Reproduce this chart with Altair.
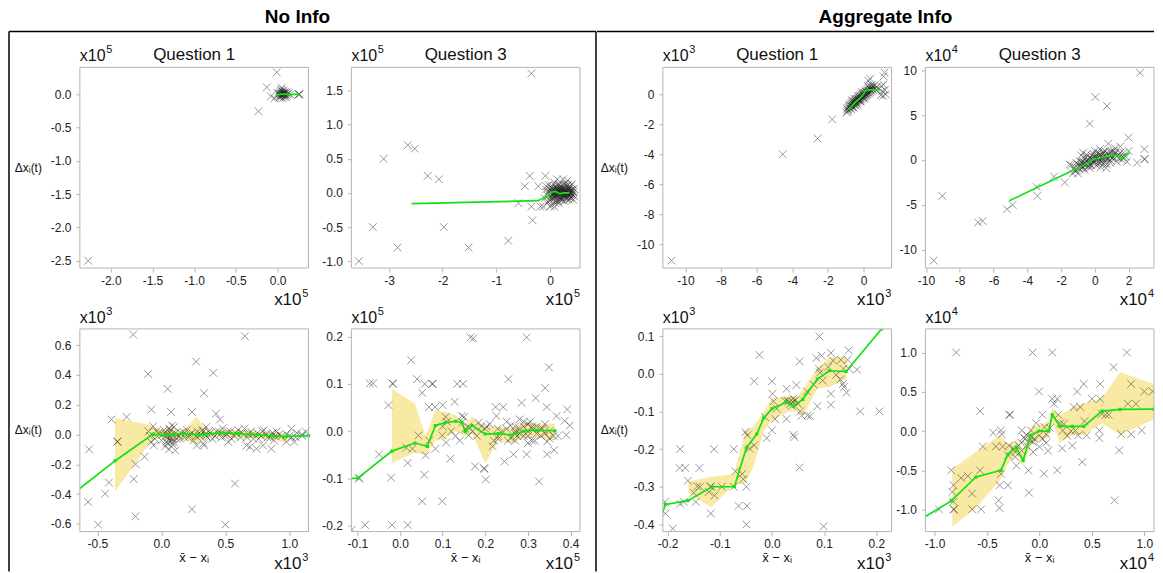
import altair as alt
import pandas as pd

FONT = "Liberation Sans"
XSHAPE = "M-1,-1L1,1M-1,1L1,-1"
GREEN = "#14e014"
BANDC = "#f8eaa5"
FRAME = "#b4b4b4"
W = 229
HT = 201
HB = 203

# ---------------- No Info, Question 1 (x10^5) ----------------
A_PTS = [(-2.27, -2.50), (-0.23, -0.255), (-0.13, 0.105), (-0.01, 0.33), (-0.04, -0.06),
         (-0.08, -0.03), (0.05, 0.10), (0.26, 0.0), (0.26, 0.004), (0.25, -0.004),
         (0.00, 0.02), (0.02, -0.03), (0.03, 0.04), (0.04, 0.00), (0.05, -0.02), (0.06, 0.03),
         (0.07, 0.06), (0.08, -0.04), (0.09, 0.01), (0.10, -0.01), (0.11, 0.03), (0.12, 0.00),
         (0.03, -0.05), (0.05, 0.05), (0.07, -0.01), (0.01, 0.00), (0.04, 0.07), (0.06, -0.06),
         (0.09, 0.04), (0.02, 0.01), (0.08, 0.02), (0.10, -0.04), (0.05, 0.01), (0.07, 0.02),
         (0.13, 0.02), (0.15, 0.0), (0.04, -0.02), (0.06, 0.0), (0.03, 0.01), (0.08, 0.0)]
A_LINE = [(-0.02, -0.01), (0.03, 0.0), (0.07, 0.005), (0.12, 0.0), (0.26, 0.0)]

# ---------------- No Info, Question 3 (x10^5) ----------------
B_PTS = [(-3.56, -1.0), (-3.30, -0.5), (-3.10, 0.5), (-2.84, -0.8), (-2.65, 0.70), (-2.52, 0.65),
         (-2.28, 0.25), (-2.07, 0.20), (-1.98, -0.5), (-1.52, -0.8), (-0.78, -0.70), (-0.59, -0.15),
         (-0.35, 1.75), (-0.38, 0.25), (-0.47, 0.10), (-0.33, -0.40), (-0.35, -0.2), (-0.22, 0.10),
         (-0.09, 0.25), (-0.07, 0.1), (-0.13, -0.2), (0.0, -0.2), (-0.05, -0.15), (-0.18, -0.2),
         (-0.1, -0.08), (0.00, 0.05), (0.02, -0.05), (0.04, 0.10), (0.05, 0.0), (0.06, -0.1),
         (0.08, 0.15), (0.09, 0.03), (0.10, -0.04), (0.11, 0.08), (0.12, -0.12), (0.13, 0.0),
         (0.14, 0.05), (0.15, -0.06), (0.16, 0.12), (0.17, 0.02), (0.18, -0.02), (0.19, 0.07),
         (0.20, -0.08), (0.21, 0.0), (0.22, 0.04), (0.23, -0.03), (0.24, 0.2), (0.25, 0.01),
         (0.26, -0.05), (0.27, 0.06), (0.28, -0.01), (0.29, 0.03), (0.30, -0.07), (0.31, 0.02),
         (0.32, 0.18), (0.33, -0.02), (0.34, 0.05), (0.35, 0.0), (0.36, -0.04), (0.37, 0.03),
         (0.38, 0.1), (0.40, -0.01), (0.42, 0.02), (0.44, 0.06), (0.45, -0.05), (-0.05, 0.0),
         (-0.08, 0.05), (0.03, 0.02), (0.07, -0.02), (0.12, 0.04), (0.18, 0.09), (0.22, -0.1),
         (0.27, -0.12), (0.31, 0.1), (0.35, -0.1), (0.39, -0.06), (0.10, 0.0), (0.15, 0.02),
         (0.20, 0.03), (0.25, 0.0), (0.30, 0.01), (0.35, 0.02), (0.05, 0.06), (0.28, 0.14),
         (0.16, -0.15), (0.08, -0.2), (0.02, -0.18), (-0.02, -0.1), (-0.03, 0.12), (0.13, 0.2),
         (0.41, 0.13), (0.43, -0.1),
         (0.01, 0.0), (0.03, -0.03), (0.05, 0.03), (0.07, 0.0), (0.09, -0.06), (0.11, 0.02),
         (0.13, -0.03), (0.15, 0.04), (0.17, -0.04), (0.19, 0.0), (0.21, 0.05), (0.23, 0.01),
         (0.25, -0.03), (0.27, 0.02), (0.29, -0.04), (0.31, 0.0), (0.33, 0.04), (0.35, -0.02),
         (0.37, 0.0), (0.39, 0.03), (0.02, 0.08), (0.06, 0.05), (0.10, 0.10), (0.14, -0.09),
         (0.18, 0.12), (0.22, 0.07), (0.26, 0.09), (0.30, -0.09), (0.34, 0.08), (0.38, -0.08),
         (0.04, -0.08), (0.08, -0.05), (0.12, 0.06), (0.16, 0.06), (0.20, -0.05), (0.24, -0.07),
         (0.28, 0.05), (0.32, -0.05), (0.36, 0.06), (0.40, 0.05), (-0.02, 0.02), (-0.04, -0.04),
         (0.00, -0.1), (0.15, -0.12), (0.25, 0.13), (0.10, -0.15), (0.33, 0.12), (0.42, -0.03),
         (0.44, 0.01), (0.19, -0.1)]
B_LINE = [(-2.58, -0.156), (-0.222, -0.113), (-0.068, -0.05), (0.025, 0.01), (0.10, 0.023),
          (0.18, -0.01), (0.27, 0.0), (0.36, 0.0)]

# ---------------- No Info, bottom left (x10^3) ----------------
C_PTS = [(-0.565, -0.10), (-0.573, -0.453), (-0.495, -0.605), (-0.44, -0.397), (-0.41, -0.323),
         (-0.389, 0.10), (-0.344, -0.047), (-0.344, -0.05), (-0.272, 0.117), (-0.22, 0.67),
         (-0.215, -0.30), (-0.202, -0.20), (-0.202, -0.55), (-0.132, -0.15), (-0.103, 0.405),
         (-0.078, 0.167), (-0.064, 0.054), (-0.06, -0.074), (0.049, 0.306), (0.064, 0.016),
         (0.075, 0.15), (0.083, 0.06), (0.096, -0.05), (0.109, -0.107), (0.148, -0.029),
         (0.239, 0.15), (0.239, -0.502), (0.272, 0.489), (0.277, -0.074), (0.334, 0.277),
         (0.334, -0.074), (0.406, 0.413), (0.427, 0.139), (0.458, 0.10), (0.50, -0.605),
         (0.523, -0.05), (0.575, -0.33), (0.653, 0.659), (0.666, -0.074), (0.692, -0.084),
         (0.744, -0.096), (0.795, -0.074), (0.86, -0.096), (0.977, -0.05), (1.016, 0.038),
         (1.04, -0.05), (1.10, 0.0),
         (-0.10, 0.02), (-0.05, -0.03), (-0.02, 0.01), (0.00, -0.04), (0.02, 0.03), (0.04, -0.01),
         (0.05, -0.06), (0.06, 0.04), (0.07, -0.02), (0.08, 0.00), (0.10, 0.05), (0.12, -0.03),
         (0.15, 0.01), (0.18, -0.02), (0.20, 0.03), (0.22, 0.00), (0.25, -0.04), (0.28, 0.02),
         (0.30, -0.01), (0.32, 0.03), (0.34, 0.0), (0.36, -0.02), (0.38, 0.01), (0.40, -0.03),
         (0.43, 0.02), (0.46, 0.0), (0.48, 0.04), (0.50, -0.01), (0.52, 0.02), (0.55, -0.03),
         (0.58, 0.01), (0.60, 0.03), (0.62, -0.02), (0.65, 0.04), (0.68, 0.0), (0.70, 0.02),
         (0.72, -0.03), (0.75, 0.01), (0.78, -0.01), (0.80, 0.03), (0.83, -0.02), (0.86, 0.0),
         (0.88, -0.04), (0.90, 0.02), (0.94, -0.01), (0.98, 0.0), (1.02, -0.02), (1.06, 0.01),
         (1.10, -0.01), (1.13, 0.02), (0.03, -0.08), (0.06, -0.10), (0.09, -0.07), (-0.08, -0.05),
         (0.33, -0.06), (0.35, 0.05),
         (-0.09, -0.01), (-0.04, 0.02), (0.01, 0.0), (0.03, 0.01), (0.05, -0.02), (0.07, 0.03),
         (0.09, -0.03), (0.11, 0.01), (0.14, -0.01), (0.17, 0.02), (0.21, -0.02), (0.24, 0.01),
         (0.27, -0.01), (0.31, 0.0), (0.33, 0.02), (0.35, -0.01), (0.37, 0.02), (0.42, -0.01),
         (0.45, 0.02), (0.47, -0.02), (0.51, 0.0), (0.54, 0.02), (0.57, -0.01), (0.63, 0.01),
         (0.67, -0.02), (0.71, 0.0), (0.76, -0.03), (0.79, 0.02), (0.82, 0.0), (0.85, -0.02),
         (0.87, 0.01), (0.89, -0.01), (0.92, 0.0), (1.0, -0.01), (1.05, -0.02), (0.04, -0.05),
         (0.06, -0.04), (0.08, -0.05)]
C_LINE = [(-0.70, -0.405), (-0.363, -0.178), (-0.068, 0.0), (0.02, -0.005), (0.10, 0.0),
          (0.18, 0.005), (0.277, -0.005), (0.35, 0.0), (0.458, 0.012), (0.60, 0.005),
          (0.744, -0.003), (0.86, -0.01), (0.977, -0.013), (1.15, -0.008)]
C_BAND = [(-0.363, -0.384, 0.11), (-0.068, -0.03, 0.06), (0.018, -0.025, 0.02), (0.07, -0.04, 0.056),
          (0.10, -0.04, 0.02), (0.18, -0.03, 0.03), (0.277, -0.065, 0.12), (0.35, -0.02, 0.02),
          (0.458, -0.01, 0.03), (0.60, -0.025, 0.03), (0.744, -0.025, 0.015), (0.86, -0.03, 0.01),
          (0.977, -0.06, 0.005)]

# ---------------- No Info, bottom right (x10^5) ----------------
D_PTS = [(-0.113, -0.208), (-0.082, -0.198), (-0.096, -0.098), (-0.096, -0.1), (-0.071, 0.101),
         (-0.063, 0.101), (-0.049, -0.049), (-0.027, 0.055), (-0.021, -0.098), (-0.019, -0.198),
         (-0.018, 0.101), (-0.016, 0.1), (0.018, -0.198), (0.018, -0.067), (0.026, 0.150),
         (0.015, -0.035), (0.029, -0.037), (0.040, 0.110), (0.043, -0.009), (0.052, 0.081),
         (0.057, -0.092), (0.052, -0.148), (0.058, 0.10), (0.06, -0.051), (0.068, 0.051),
         (0.068, -0.02), (0.077, 0.10), (0.075, 0.1), (0.082, 0.051), (0.083, -0.037),
         (0.099, -0.148), (0.099, -0.009), (0.100, 0.055), (0.107, 0.03), (0.108, -0.024),
         (0.118, -0.058), (0.128, 0.062), (0.134, 0.10), (0.148, 0.10), (0.145, 0.032),
         (0.146, 0.019), (0.153, 0.005), (0.161, -0.009), (0.165, 0.198), (0.172, 0.196),
         (0.176, -0.074), (0.184, 0.018), (0.19, 0.01), (0.198, -0.08), (0.197, -0.078),
         (0.201, -0.102), (0.203, 0.01), (0.217, -0.032), (0.224, 0.051), (0.226, 0.032),
         (0.229, 0.005), (0.23, -0.016), (0.242, 0.051), (0.245, -0.064), (0.254, 0.110),
         (0.253, -0.02), (0.266, -0.049), (0.27, -0.005), (0.275, -0.01), (0.285, 0.06),
         (0.297, 0.198), (0.297, -0.049), (0.30, -0.01), (0.305, 0.02), (0.318, 0.07),
         (0.326, -0.106), (0.316, -0.02), (0.334, 0.005), (0.34, 0.091), (0.344, 0.051),
         (0.345, -0.049), (0.349, 0.135), (0.345, -0.022), (0.361, -0.04), (0.367, 0.032),
         (0.37, -0.01), (0.386, 0.022), (0.392, 0.046), (0.39, -0.008), (0.398, 0.012),
         (0.12, 0.0), (0.14, -0.02), (0.16, 0.01), (0.18, -0.01), (0.21, 0.015), (0.23, -0.01),
         (0.25, 0.005), (0.26, -0.015), (0.27, 0.01), (0.28, -0.005), (0.29, 0.02), (0.30, 0.0),
         (0.31, -0.02), (0.32, 0.01), (0.33, -0.01), (0.34, 0.015), (0.35, 0.0), (0.36, -0.01),
         (0.28, 0.005), (0.30, 0.015), (0.27, -0.02), (0.31, 0.005), (0.24, 0.0), (0.15, 0.03),
         (0.11, 0.02),
         (0.10, 0.01), (0.13, -0.01), (0.17, 0.0), (0.20, 0.005), (0.22, -0.02), (0.25, 0.02),
         (0.27, 0.0), (0.29, -0.01), (0.31, 0.01), (0.33, 0.005), (0.35, -0.015), (0.29, 0.01),
         (0.32, -0.005), (0.26, 0.012), (0.34, -0.005), (0.30, -0.025), (0.28, 0.025)]
D_LINE = [(-0.13, -0.10), (-0.099, -0.099), (-0.019, -0.042), (0.035, -0.025), (0.064, -0.032),
          (0.083, 0.012), (0.107, 0.018), (0.13, 0.021), (0.145, 0.019), (0.153, -0.001),
          (0.169, 0.012), (0.20, -0.006), (0.23, -0.005), (0.26, -0.008), (0.29, 0.0),
          (0.32, 0.002), (0.363, 0.001)]
D_BAND = [(-0.019, -0.067, 0.089), (0.035, -0.045, 0.058), (0.060, -0.05, -0.01), (0.083, -0.02, 0.045),
          (0.107, -0.015, 0.04), (0.13, 0.0, 0.035), (0.153, -0.01, 0.015), (0.169, -0.005, 0.03),
          (0.20, -0.068, 0.01), (0.23, -0.02, 0.01), (0.26, -0.025, 0.005), (0.29, -0.015, 0.018),
          (0.32, -0.012, 0.015), (0.363, -0.02, 0.016)]

# ---------------- Aggregate Info, Question 1 (x10^3) ----------------
E_PTS = [(-10.78, -11.1), (-4.54, -4.0), (-2.58, -2.95), (-1.76, -1.67), (1.18, 1.45), (1.13, 1.2),
         (1.0, 0.55), (1.12, 0.65), (0.98, -0.05), (1.25, 0.0), (1.05, 0.2), (0.28, 0.9), (0.37, 1.05),
         (1.2, 0.3), (1.1, -0.1),
         (-0.95, -1.2), (-0.9, -0.9), (-0.85, -1.05), (-0.8, -0.7), (-0.75, -0.95), (-0.7, -0.6),
         (-0.65, -0.85), (-0.6, -0.45), (-0.55, -0.7), (-0.5, -0.5), (-0.45, -0.75), (-0.4, -0.3),
         (-0.35, -0.55), (-0.3, -0.2), (-0.25, -0.45), (-0.2, -0.1), (-0.15, -0.35), (-0.1, 0.0),
         (-0.05, -0.25), (0.0, 0.1), (0.05, -0.15), (0.1, 0.2), (0.15, -0.05), (0.2, 0.3),
         (0.25, 0.05), (0.3, 0.4), (0.35, 0.15), (0.4, 0.5), (0.45, 0.2), (0.5, 0.35), (-0.6, -0.8),
         (-0.4, -0.6), (-0.2, -0.4), (0.0, -0.2), (-0.3, -0.1), (-0.1, 0.15), (0.1, -0.1),
         (-0.5, -0.3), (-0.7, -1.0), (0.2, 0.0), (0.3, 0.1), (-0.15, -0.2), (-0.25, -0.3),
         (-0.45, -0.5), (-0.35, -0.35), (0.05, 0.05), (0.15, 0.15), (-0.05, -0.05), (0.6, 0.6),
         (0.55, 0.3),
         (-0.92, -1.0), (-0.88, -1.15), (-0.82, -0.85), (-0.78, -0.8), (-0.72, -0.75), (-0.68, -0.7),
         (-0.62, -0.6), (-0.58, -0.55), (-0.52, -0.62), (-0.48, -0.4), (-0.42, -0.45), (-0.38, -0.4),
         (-0.32, -0.3), (-0.28, -0.35), (-0.22, -0.2), (-0.18, -0.25), (-0.12, -0.1), (-0.08, -0.15),
         (-0.02, 0.0), (0.02, -0.05), (0.08, 0.1), (0.12, 0.05), (0.18, 0.2), (0.22, 0.15),
         (0.28, 0.25), (0.32, 0.3), (0.38, 0.35), (0.42, 0.3), (0.48, 0.45), (0.52, 0.5),
         (-0.55, -0.9), (-0.35, -0.7), (-0.15, -0.5), (0.05, -0.3), (0.25, 0.55), (0.45, 0.65),
         (-0.65, -0.4), (0.65, 0.4), (0.7, 0.3), (0.75, 0.5)]
E_LINE = [(-0.84, -1.0), (-0.6, -0.7), (-0.4, -0.45), (-0.2, -0.25), (0.0, 0.0), (0.1, 0.22),
          (0.28, 0.3), (0.6, 0.3), (1.03, 0.29)]

# ---------------- Aggregate Info, Question 3 (x10^4) ----------------
F_PTS = [(-9.54, -11.2), (-9.03, -4.0), (-6.91, -6.96), (-6.64, -6.8), (-5.2, -5.48), (-4.87, -5.0),
         (-3.44, -3.0), (-3.4, -4.0), (-2.42, -1.85), (-1.78, -2.5), (-1.5, -0.5), (-0.3, 4.04),
         (0.03, 7.0), (0.72, 6.0), (2.68, 9.7), (1.99, 2.49), (2.93, 1.2), (2.93, 0.08), (2.95, 0.1),
         (2.5, -0.3), (1.2, 0.8), (1.6, 0.3), (-0.7, 0.8), (0.65, -0.9),
         (-1.3, -1.5), (-1.2, -0.8), (-1.1, -1.2), (-1.0, -0.5), (-0.9, -1.0), (-0.8, -0.3),
         (-0.7, -0.8), (-0.6, 0.2), (-0.5, -0.5), (-0.4, 0.0), (-0.3, -0.9), (-0.2, 0.5),
         (-0.1, -0.3), (0.0, 0.3), (0.1, -0.6), (0.2, 0.8), (0.3, 0.0), (0.4, 0.5), (0.5, -0.4),
         (0.6, 1.0), (0.7, 0.2), (0.8, 0.6), (0.9, -0.3), (1.0, 0.9), (1.1, 0.3), (1.2, 1.3),
         (1.3, -0.2), (1.4, 0.6), (1.5, 1.5), (1.6, 0.0), (1.8, 0.4), (2.0, 1.0), (-0.9, -0.1),
         (-0.5, 0.6), (-0.2, -0.6), (0.1, 0.1), (0.3, 1.2), (0.5, 0.2), (0.7, -0.5), (-0.7, -0.2),
         (-0.3, 0.2), (0.0, -0.2), (0.2, 0.4), (0.4, -0.2), (-1.0, -1.5), (-0.6, -1.1), (1.7, 0.8),
         (0.9, 0.4), (-0.4, -0.4), (0.6, 0.5), (-0.1, 0.7), (0.8, 1.8), (1.2, 0.7), (-0.8, 0.5),
         (0.0, 1.0), (-1.4, -0.6), (1.9, -0.2), (0.35, -0.8),
         (-1.2, -1.2), (-1.0, -0.9), (-0.9, -0.6), (-0.8, -0.9), (-0.7, -0.4), (-0.6, -0.6),
         (-0.5, -0.1), (-0.4, -0.7), (-0.3, -0.4), (-0.2, 0.1), (-0.1, -0.1), (0.0, 0.0),
         (0.1, 0.4), (0.2, -0.2), (0.3, 0.6), (0.4, 0.2), (0.5, 0.7), (0.6, -0.1), (0.7, 0.8),
         (0.8, 0.1), (0.9, 0.9), (1.0, 0.2), (1.1, 1.0), (1.3, 0.4), (1.5, 0.8), (-0.6, -0.3),
         (-0.2, 0.2), (0.2, 0.1), (0.6, 0.3), (1.0, 0.5), (-1.1, -0.3), (-0.5, 0.3), (0.1, 0.6),
         (0.5, 0.9), (-0.3, -0.6), (0.3, -0.4), (0.9, 0.0), (1.4, 0.2), (1.7, 0.3), (-0.8, -0.6)]
F_LINE = [(-5.07, -4.55), (-0.95, -0.85), (-0.37, -0.3), (-0.08, 0.08), (0.43, 0.3), (0.83, 0.5),
          (1.22, 0.5), (1.57, 0.1), (2.05, 0.8)]

# ---------------- Aggregate Info, bottom left (x10^3) ----------------
G_PTS = [(-0.205, -0.34), (-0.204, -0.371), (-0.19, -0.411), (-0.176, -0.20), (-0.177, -0.25),
         (-0.166, -0.25), (-0.161, -0.284), (-0.176, -0.345), (-0.169, -0.34), (-0.15, -0.316),
         (-0.139, -0.25), (-0.143, -0.299), (-0.138, -0.30), (-0.146, -0.34), (-0.121, -0.314),
         (-0.117, -0.299), (-0.118, -0.30), (-0.111, -0.20), (-0.117, -0.371), (-0.11, -0.323),
         (-0.096, -0.30), (-0.073, -0.20), (-0.073, -0.30), (-0.07, -0.259), (-0.064, -0.351),
         (-0.057, -0.266), (-0.055, -0.28), (-0.049, -0.30), (-0.048, -0.351), (-0.049, -0.40),
         (-0.051, -0.155), (-0.047, -0.163), (-0.043, -0.199), (-0.034, -0.19), (-0.034, -0.02),
         (-0.024, 0.05), (-0.013, -0.115), (-0.01, -0.171), (0.0, -0.02), (0.001, -0.053),
         (0.0, -0.15), (0.006, -0.12), (0.003, -0.073), (0.009, -0.093), (0.028, -0.04),
         (0.028, -0.12), (0.032, -0.075), (0.041, -0.066), (0.043, -0.168), (0.041, -0.162),
         (0.053, 0.033), (0.053, -0.249), (0.047, -0.03), (0.054, -0.1), (0.057, -0.111),
         (0.068, -0.111), (0.073, -0.113), (0.067, -0.047), (0.08, -0.029), (0.085, 0.042),
         (0.087, -0.086), (0.091, 0.099), (0.092, 0.003), (0.095, 0.048), (0.097, -0.018),
         (0.099, -0.405), (0.108, 0.018), (0.113, 0.055), (0.113, -0.053), (0.113, -0.082),
         (0.117, 0.035), (0.123, -0.003), (0.132, 0.037), (0.136, -0.027), (0.138, -0.035),
         (0.143, -0.05), (0.147, 0.062), (0.145, 0.037), (0.148, 0.013), (0.163, 0.011),
         (0.169, -0.1), (0.206, -0.1), (0.137, 0.013), (0.09, 0.013), (0.131, -0.015),
         (0.030, -0.07), (0.035, -0.08), (0.040, -0.075), (0.045, -0.07), (0.050, -0.08),
         (0.038, -0.085), (0.025, -0.072)]
G_LINE = [(-0.215, -0.39), (-0.204, -0.347), (-0.161, -0.337), (-0.115, -0.30), (-0.072, -0.30),
          (-0.049, -0.197), (-0.029, -0.16), (-0.016, -0.118), (0.0, -0.093), (0.029, -0.075),
          (0.041, -0.086), (0.059, -0.068), (0.087, -0.014), (0.11, 0.008), (0.142, 0.006),
          (0.21, 0.119), (0.229, 0.15)]
G_BAND = [(-0.160, -0.318, -0.286), (-0.117, -0.354, -0.274), (-0.073, -0.296, -0.266),
          (-0.050, -0.290, -0.150), (-0.035, -0.245, -0.140), (-0.015, -0.150, -0.100),
          (0.000, -0.125, -0.065), (0.030, -0.100, -0.060), (0.050, -0.100, -0.060),
          (0.060, -0.110, -0.040), (0.087, -0.040, 0.015), (0.110, -0.035, 0.044),
          (0.143, -0.013, 0.044)]

# ---------------- Aggregate Info, bottom right (x10^4) ----------------
H_PTS = [(-0.957, -0.996), (-0.841, -0.50), (-0.819, -0.69), (-0.83, -0.775), (-0.82, -0.90),
         (-0.817, -0.996), (-0.815, -1.0), (-0.793, 1.0), (-0.746, -0.597), (-0.682, -0.572),
         (-0.642, -0.797), (-0.64, -0.996), (-0.556, -0.996), (-0.566, -0.50), (-0.565, 0.254),
         (-0.54, -0.196), (-0.44, -0.022), (-0.414, -0.196), (-0.389, -0.882), (-0.38, -0.98),
         (-0.38, -0.69), (-0.367, 0.008), (-0.36, -0.04), (-0.35, -0.196), (-0.367, -0.545),
         (-0.30, -0.31), (-0.288, 0.207), (-0.28, 0.207), (-0.30, -0.69), (-0.29, -0.185),
         (-0.231, -0.267), (-0.23, -0.33), (-0.22, -0.44), (-0.168, 0.008), (-0.17, -0.15),
         (-0.168, -0.25), (-0.136, -0.098), (-0.12, -0.185), (-0.104, -0.50), (-0.10, -0.784),
         (-0.081, 0.008), (-0.077, -0.077), (-0.066, 1.0), (-0.062, -0.14), (-0.06, -0.267),
         (-0.004, 0.503), (0.0, -0.055), (0.0, -0.2), (0.028, 0.207), (0.044, -0.543),
         (0.065, -0.15), (0.083, -0.25), (0.065, -0.04), (0.1, 0.04), (0.123, 1.0), (0.123, 0.41),
         (0.139, 0.347), (0.17, 0.41), (0.17, -0.50), (0.18, 0.207), (0.218, -0.22), (0.224, 0.008),
         (0.233, 0.092), (0.265, -0.06), (0.313, -0.185), (0.328, 0.305), (0.344, 0.008),
         (0.36, 0.503), (0.37, -0.055), (0.39, 0.305), (0.408, -0.394), (0.423, 0.60),
         (0.43, 0.125), (0.45, -0.055), (0.502, 0.41), (0.572, -0.09), (0.58, 0.60), (0.572, 0.008),
         (0.58, 0.41), (0.595, 0.22), (0.63, 0.207), (0.66, 0.207), (0.717, -0.882), (0.707, 0.813),
         (0.761, -0.246), (0.78, -0.04), (0.834, 1.0), (0.843, 0.347), (0.875, 0.60),
         (0.875, -0.04), (0.92, 0.347), (0.976, 0.008), (1.0, 0.503), (1.08, 0.503),
         (-0.12, -0.05), (-0.09, -0.12), (-0.05, -0.1), (-0.15, -0.08), (-0.2, -0.18),
         (-0.25, -0.22), (0.03, -0.1), (0.05, 0.05), (-0.03, 0.1), (0.2, 0.1), (0.3, 0.0)]
H_LINE = [(-1.10, -1.10), (-0.841, -0.89), (-0.604, -0.585), (-0.367, -0.50), (-0.30, -0.297),
          (-0.22, -0.212), (-0.155, -0.373), (-0.081, -0.055), (-0.004, 0.0), (0.09, 0.0),
          (0.123, 0.207), (0.196, 0.059), (0.313, 0.059), (0.423, 0.059), (0.597, 0.254),
          (0.77, 0.275), (1.093, 0.28)]
H_BAND = [(-0.83, -1.22, -0.48), (-0.60, -0.97, -0.26), (-0.37, -0.62, -0.05), (-0.30, -0.42, -0.17),
          (-0.22, -0.30, -0.12), (-0.155, -0.45, -0.25), (-0.08, -0.17, 0.05), (0.0, -0.12, 0.08),
          (0.09, -0.08, 0.12), (0.123, 0.12, 0.30), (0.196, -0.15, 0.20), (0.313, -0.05, 0.30),
          (0.423, -0.05, 0.35), (0.597, 0.10, 0.42), (0.77, -0.05, 0.75), (1.093, 0.15, 0.60)]


def lab_expr(dec):
    f = "'.%df'" % dec if dec else "'d'"
    return "(datum.value < 0 ? '-' : '') + format(abs(datum.value), %s)" % f


def txt(text, x, y, size, align="left", baseline="alphabetic", weight="normal", color="#111"):
    return alt.Chart(pd.DataFrame({"t": [text]})).mark_text(
        text=text, align=align, baseline=baseline, fontSize=size, font=FONT,
        fontWeight=weight, color=color
    ).encode(x=alt.value(x), y=alt.value(y))


def rule(x1, y1, x2, y2):
    return alt.Chart(pd.DataFrame({"t": [0]})).mark_rule(color="black", strokeWidth=1.5).encode(
        x=alt.value(x1), x2=alt.value(x2), y=alt.value(y1), y2=alt.value(y2))


def frame(h):
    return alt.Chart(pd.DataFrame({"t": [0]})).mark_rect(
        fillOpacity=0, stroke=FRAME, strokeWidth=1
    ).encode(x=alt.value(0), x2=alt.value(W), y=alt.value(0), y2=alt.value(h))


def panel(pts, line, band, xdom, ydom, xt, yt, xd, yd, exp, h, slot=W,
          title=None, ylab=None, xlab=False, dots=False, extra=()):
    xs = alt.Scale(domain=xdom, nice=False, zero=False, range=[0, W])
    ys = alt.Scale(domain=ydom, nice=False, zero=False)
    xax = alt.Axis(values=xt, labelExpr=lab_expr(xd), title=None)
    yax = alt.Axis(values=yt, labelExpr=lab_expr(yd), title=None)
    X = alt.X("x:Q", scale=xs, axis=xax)
    Y = alt.Y("y:Q", scale=ys, axis=yax)
    layers = []
    if band:
        bdf = pd.DataFrame(band, columns=["x", "lo", "hi"])
        layers.append(alt.Chart(bdf).mark_area(color=BANDC, opacity=1, clip=True).encode(
            x=X, y=alt.Y("lo:Q", scale=ys, axis=yax), y2="hi:Q"))
    pdf = pd.DataFrame(pts, columns=["x", "y"])
    layers.append(alt.Chart(pdf).mark_point(shape=XSHAPE, filled=False, size=60, strokeWidth=0.9,
                                            color="#1a1a1a", opacity=0.5, clip=True).encode(x=X, y=Y))
    ldf = pd.DataFrame(line, columns=["x", "y"])
    layers.append(alt.Chart(ldf).mark_line(color=GREEN, strokeWidth=1.7, clip=True).encode(x=X, y=Y))
    if dots:
        layers.append(alt.Chart(ldf).mark_square(color=GREEN, size=10, opacity=1, clip=True).encode(x=X, y=Y))
    layers.append(frame(h))
    # exponent labels
    layers.append(txt("x10", 0, -6, 16))
    layers.append(txt(exp, 26.5, -14, 11))
    layers.append(txt(exp, W, h + 29, 11, align="right"))
    layers.append(txt("x10", W - 7, h + 37, 17, align="right"))
    if title:
        layers.append(txt(title, W / 2, -7, 17, align="center"))
    if ylab:
        layers.append(txt("\u0394x\u1d62(t)", ylab, h / 2, 12, align="right", baseline="middle"))
    if xlab:
        layers.append(txt("x\u0304  \u2212  x\u1d62", W / 2, h + 30, 13, align="center"))
    layers.extend(extra)
    return alt.layer(*layers).properties(width=slot, height=h)


S1 = W + 43 - 34   # slot of first column: gap to next frame 43
S2 = W + 83 - 34   # slot of second column: gap to next frame 83

f1 = [-2, -1.5, -1, -0.5, 0]
pA = panel(A_PTS, A_LINE, None, [-2.37, 0.37], [-2.61, 0.405], f1, [0, -0.5, -1, -1.5, -2, -2.5],
           1, 1, "5", HT, slot=S1, title="Question 1", ylab=-38,
           extra=(rule(-71, -36, 517, -36), rule(-71, -36, -71, 505), rule(517, -36, 517, 505),
                  txt("No Info", 218, -44, 19, align="center", weight="bold", color="black")))
pB = panel(B_PTS, B_LINE, None, [-3.70, 0.556], [-1.10, 1.84], [-3, -2, -1, 0],
           [-1, -0.5, 0, 0.5, 1, 1.5], 0, 1, "5", HT, slot=S2, title="Question 3")
pC = panel(C_PTS, C_LINE, C_BAND, [-0.637, 1.15], [-0.652, 0.708], [-0.5, 0, 0.5, 1.0],
           [-0.6, -0.4, -0.2, 0, 0.2, 0.4, 0.6], 1, 1, "3", HB, slot=S1, ylab=-38, xlab=True, dots=True)
pD = panel(D_PTS, D_LINE, D_BAND, [-0.114, 0.422], [-0.212, 0.216], [-0.1, 0, 0.1, 0.2, 0.3, 0.4],
           [-0.2, -0.1, 0, 0.1, 0.2], 1, 1, "5", HB, slot=S2, xlab=True, dots=True)
pE = panel(E_PTS, E_LINE, None, [-11.27, 1.57], [-11.6, 1.8], [-10, -8, -6, -4, -2, 0],
           [-10, -8, -6, -4, -2, 0], 0, 0, "3", HT, title="Question 1", ylab=-35,
           extra=(rule(-66, -36, 492, -36),
                  txt("Aggregate Info", 223, -44, 19, align="center", weight="bold", color="black")))
pF = panel(F_PTS, F_LINE, None, [-10.03, 3.5], [-12.03, 10.3], [-10, -8, -6, -4, -2, 0, 2],
           [-10, -5, 0, 5, 10], 0, 0, "4", HT, title="Question 3")
pG = panel(G_PTS, G_LINE, G_BAND, [-0.209, 0.229], [-0.419, 0.119], [-0.2, -0.1, 0, 0.1, 0.2],
           [-0.4, -0.3, -0.2, -0.1, 0, 0.1], 1, 1, "3", HB, ylab=-35, xlab=True, dots=True)
pH = panel(H_PTS, H_LINE, H_BAND, [-1.087, 1.093], [-1.28, 1.30], [-1, -0.5, 0, 0.5, 1],
           [-1, -0.5, 0, 0.5, 1], 1, 1, "4", HB, xlab=True, dots=True)

chart = alt.concat(pA, pB, pE, pF, pC, pD, pG, pH, columns=4,
                   spacing={"row": 61, "column": 34}, bounds="flush").properties(
    padding=0, background="white"
).configure_view(
    strokeWidth=0
).configure_axis(
    domain=False, ticks=True, tickColor=FRAME, tickSize=4, labelFont=FONT, labelFontSize=12,
    labelColor="#222", grid=False, labelPadding=3, labelOverlap=False, labelFlush=False
).configure_axisY(labelPadding=5)

chart.save("out.html", embed_options={"renderer": "svg", "actions": False})
